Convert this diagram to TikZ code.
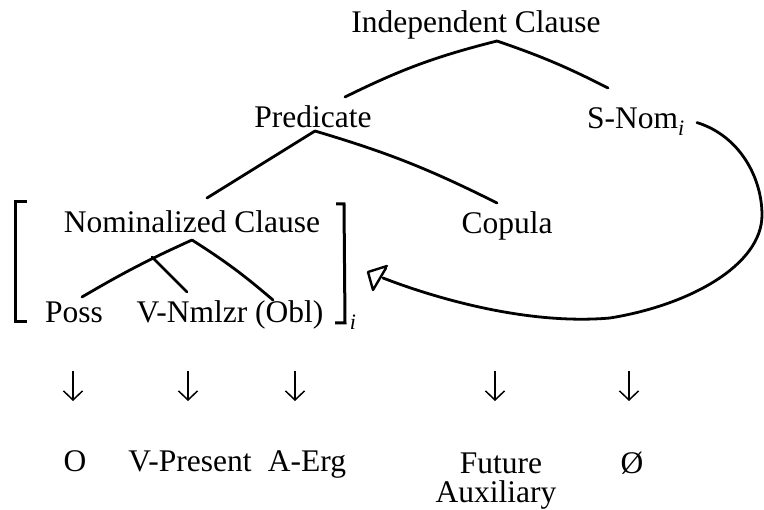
\documentclass[tikz,border=0pt]{standalone}
\usepackage{fontspec}
\setmainfont{Liberation Serif}
\usetikzlibrary{arrows.meta}

\begin{document}
\begin{tikzpicture}[x=1pt,y=-1pt,
  lbl/.style={anchor=base,inner sep=0pt,font=\fontsize{31.5}{34}\selectfont},
  sub/.style={anchor=base,inner sep=0pt,font=\fontsize{22}{22}\selectfont\itshape},
  branch/.style={line width=2.8pt,line cap=round,line join=round},
  brack/.style={line width=3pt},
  downarr/.style={line width=1.5pt,-{Straight Barb[length=9pt,width=19pt,line width=1.5pt]}}]
  \useasboundingbox (0,0) rectangle (764,510);
  \node[lbl] (ic) at (476,33) {Independent Clause};
  \node[lbl] (pred) at (313,128) {Predicate};
  \node[lbl] (snom) at (636,129) {S-Nom\textsubscript{\textit{i}}};
  \node[lbl] (nc) at (192,233) {Nominalized Clause};
  \node[lbl] (cop) at (507,234) {Copula};
  \node[lbl] (poss) at (74,323) {Poss};
  \node[lbl] (vn) at (230,323) {V-Nmlzr (Obl)};
  \node[sub] (idx) at (353,330) {i};
  \node[lbl] (o) at (75,472) {O};
  \node[lbl] (vp) at (190,472) {V-Present};
  \node[lbl] (ae) at (307,472) {A-Erg};
  \node[lbl] (fut) at (501,474) {Future};
  \node[lbl] (aux) at (496,503) {Auxiliary};
  \node[lbl] (null) at (632,474) {Ø};
  \coordinate (icTop) at (497,41);
  \coordinate (icL) at (345,97);
  \coordinate (icR) at (608,88);
  \coordinate (prTop) at (315,131);
  \coordinate (prL) at (207,198);
  \coordinate (prR) at (497,203);
  \coordinate (ncTop) at (192,240);
  \coordinate (ncL) at (82,297);
  \coordinate (ncR) at (273,300);
  \coordinate (ncMid) at (152,257);
  \coordinate (ncM) at (187,292);
  \coordinate (loop) at (383,278);
  \draw[branch] (icTop) to[bend right=6] (icL);
  \draw[branch] (icTop) to[bend left=4] (icR);
  \draw[branch] (prTop) -- (prL);
  \draw[branch] (prTop) to[bend left=5] (prR);
  \draw[branch] (ncTop) to[bend right=3] (ncL);
  \draw[branch] (ncTop) to[bend left=4] (ncR);
  \draw[branch] (ncMid) -- (ncM);
  \draw[brack] (27,202) -- (15,202) -- (15,322) -- (27,322);
  \draw[brack] (336,204) -- (344,204) -- (345,323) -- (335,323);
  \draw[branch] (snom.east) ++(12,1) coordinate (loopStart)
    .. controls (740,136) and (762,178) .. (762,215)
    .. controls (762,265) and (690,305) .. (610,318)
    .. controls (530,325) and (440,300) .. (loop);
  \draw[branch,line width=2.4pt] (368,272) -- (387,266) (368,272) -- (373,290) -- (386,268);
  \foreach \x [count=\k] in {73,188,295,495,629} {
    \coordinate (up\k) at (\x,371);
    \coordinate (dn\k) at (\x,401);
    \draw[downarr] (up\k) -- (dn\k);
  }
\end{tikzpicture}
\end{document}
